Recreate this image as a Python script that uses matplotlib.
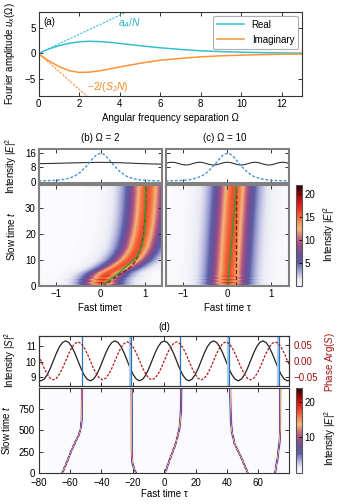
import numpy as np
import matplotlib
matplotlib.use("Agg")
import matplotlib.pyplot as plt
from matplotlib.colors import LinearSegmentedColormap

plt.rcParams['font.family'] = ['Liberation Sans', 'DejaVu Sans']
plt.rcParams['font.size'] = 7
plt.rcParams['mathtext.fontset'] = 'custom'
plt.rcParams['mathtext.rm'] = 'Liberation Sans'
plt.rcParams['mathtext.it'] = 'Liberation Sans:italic'

# ---------------- (a) Fourier amplitude u_x(Omega)
omega = [0, 0.25, 0.5, 1, 1.5, 2, 2.5, 3, 3.5, 4, 5, 6, 7, 8, 9, 10, 11, 12, 13]
u_real = [0, 0.45, 0.85, 1.5, 1.95, 2.25, 2.35, 2.3, 2.15, 1.95, 1.5, 1.1, 0.78,
          0.52, 0.36, 0.25, 0.17, 0.11, 0.07]
u_imag = [0, -0.75, -1.4, -2.5, -3.3, -3.65, -3.6, -3.35, -3.0, -2.6, -1.9, -1.3,
          -0.95, -0.65, -0.45, -0.32, -0.22, -0.15, -0.1]
omega_asym = [0, 5]
asym_real = [0, 9.2]     # a_A/N
asym_imag = [0, -17.2]   # -2/(S_2 N)

# ---------------- (b), (c) snapshots at top
tau_prof = [-1.4, -1.0, -0.8, -0.6, -0.45, -0.3, -0.15, -0.075, 0,
            0.075, 0.15, 0.3, 0.45, 0.6, 0.8, 1.0, 1.4]
pulse_prof = [0.4, 0.7, 1.3, 2.9, 5.4, 9.3, 13.8, 15.5, 16,
              15.5, 13.8, 9.3, 5.4, 2.9, 1.3, 0.7, 0.4]
tau_bg_b = [-1.4, -1.1, -0.8, -0.5, -0.25, 0, 0.25, 0.5, 0.8, 1.1, 1.4]
bg_b = [10.2, 10.3, 10.5, 10.7, 10.85, 10.9, 10.85, 10.65, 10.35, 10.05, 9.9]
tau_bg_c = [-1.4] + list(np.linspace(-1.3352, 1.3352, 35)) + [1.4]
bg_c = [10.31,
        10.77, 11.0, 10.77, 10.2, 9.63, 9.4, 9.63, 10.2,
        10.77, 11.0, 10.77, 10.2, 9.63, 9.4, 9.63, 10.2,
        10.77, 11.0, 10.77, 10.2, 9.63, 9.4, 9.63, 10.2,
        10.77, 11.0, 10.77, 10.2, 9.63, 9.4, 9.63, 10.2,
        10.77, 11.0, 10.77,
        10.31]

# ---------------- (b), (c) pulse trajectories (slow time t -> fast time tau)
map_t_b = [0, 2.5, 5, 7.5, 10, 12.5, 15, 20, 25, 30, 39]
map_tau_b = [0.0, 0.03, 0.17, 0.45, 0.66, 0.78, 0.86, 0.94, 0.99, 1.02, 1.05]
green_t_b = [0, 2, 3.6, 5.5, 7.5, 9.5, 11.3, 13.5, 15.2, 18, 20.4, 25, 30, 39]
green_tau_b = [0.04, 0.17, 0.3, 0.45, 0.58, 0.72, 0.82, 0.89, 0.93, 0.97, 0.99, 1.01, 1.02, 1.03]
dash_t_b = [0, 1, 2.3, 4.2, 6.2, 8, 9.9, 12.5, 15.2, 20.4, 28, 39]
dash_tau_b = [0.04, 0.15, 0.25, 0.4, 0.6, 0.72, 0.8, 0.87, 0.92, 0.98, 1.02, 1.03]

map_t_c = [0, 39]
map_tau_c = [0.0, 0.15]
green_t_c = [0, 39]
green_tau_c = [0.01, 0.21]
dash_t_c = [0, 39]
dash_tau_c = [0.2, 0.2]

stripe_t = [0, 0.6, 1.2, 1.8, 2.4, 3.0, 3.6, 4.5, 39]
stripe_peak = [19, 13, 18, 13.5, 17.5, 14, 16.5, 15.5, 15.5]

# ---------------- (d) drive intensity and phase
tau_s = [-80] + list(np.linspace(-78.54, 78.54, 81)) + [80]
s_int = [8.83,
         8.78, 8.88, 9.15, 9.56, 10.05, 10.54, 10.95, 11.22, 11.32, 11.22, 10.95, 10.54, 10.05, 9.56, 9.15, 8.88,
         8.78, 8.88, 9.15, 9.56, 10.05, 10.54, 10.95, 11.22, 11.32, 11.22, 10.95, 10.54, 10.05, 9.56, 9.15, 8.88,
         8.78, 8.88, 9.15, 9.56, 10.05, 10.54, 10.95, 11.22, 11.32, 11.22, 10.95, 10.54, 10.05, 9.56, 9.15, 8.88,
         8.78, 8.88, 9.15, 9.56, 10.05, 10.54, 10.95, 11.22, 11.32, 11.22, 10.95, 10.54, 10.05, 9.56, 9.15, 8.88,
         8.78, 8.88, 9.15, 9.56, 10.05, 10.54, 10.95, 11.22, 11.32, 11.22, 10.95, 10.54, 10.05, 9.56, 9.15, 8.88,
         8.78,
         8.83]
s_phase = [0.017,
           0, -0.023, -0.042, -0.055, -0.06, -0.055, -0.042, -0.023, 0, 0.023, 0.042, 0.055, 0.06, 0.055, 0.042, 0.023,
           0, -0.023, -0.042, -0.055, -0.06, -0.055, -0.042, -0.023, 0, 0.023, 0.042, 0.055, 0.06, 0.055, 0.042, 0.023,
           0, -0.023, -0.042, -0.055, -0.06, -0.055, -0.042, -0.023, 0, 0.023, 0.042, 0.055, 0.06, 0.055, 0.042, 0.023,
           0, -0.023, -0.042, -0.055, -0.06, -0.055, -0.042, -0.023, 0, 0.023, 0.042, 0.055, 0.06, 0.055, 0.042, 0.023,
           0, -0.023, -0.042, -0.055, -0.06, -0.055, -0.042, -0.023, 0, 0.023, 0.042, 0.055, 0.06, 0.055, 0.042, 0.023,
           0,
           -0.017]
pulse_end = [-52.7, -21.3, 10.3, 41.4, 73.2]
pulse_band = [False, True, False, True, True]

# (d) pulse trajectories over slow time
tracks_d = [
    ([0, 125, 250, 375, 450, 525, 625, 1000], [-65.3, -62.5, -59.8, -56.8, -54.8, -53.6, -53.0, -52.7]),
    ([0, 60, 130, 250, 1000], [-18.5, -20.0, -20.8, -21.2, -21.3]),
    ([0, 190, 350, 500, 620, 740, 1000], [0.0, 3.6, 6.8, 8.9, 9.7, 10.1, 10.3]),
    ([0, 190, 350, 500, 620, 1000], [52.5, 48.2, 44.0, 42.3, 41.8, 41.4]),
    ([0, 190, 350, 500, 1000], [69.9, 71.6, 72.6, 73.1, 73.2]),
]

# colormap
cm_vals = [0, 1.5, 3.5, 5, 7, 9, 10.5, 12.5, 14.5, 16.5, 18.5, 20.5, 22]
cm_cols = ['#ffffff', '#e8e8f4', '#9a9cd0', '#5c5fa8', '#6f4f95', '#9c4f87', '#cc6a7c',
           '#f5b878', '#f47a48', '#ec3b25', '#d01010', '#7a0000', '#200000']
cmap = LinearSegmentedColormap.from_list('heat', [(v / 22, c) for v, c in zip(cm_vals, cm_cols)])

W, H = 338, 504
fig = plt.figure(figsize=(W / 100, H / 100), dpi=100)


def px_axes(x0, y0, x1, y1):
    return fig.add_axes([x0 / W, 1 - y1 / H, (x1 - x0) / W, (y1 - y0) / H])


def style(ax, edge='#333333', lw=0.8, right=True):
    ax.tick_params(direction='in', top=True, right=right, length=3, width=0.7, pad=2,
                   color='#333333')
    for s in ax.spines.values():
        s.set_color(edge)
        s.set_linewidth(lw)


def pulse_map(tau, t, tr_t, tr_tau, pk_t, pk_v, width, bg):
    centre = np.interp(t, tr_t, tr_tau)
    peak = np.interp(t, pk_t, pk_v)
    return bg + peak[:, None] / np.cosh((tau[None, :] - centre[:, None]) / width) ** 2


cyan = '#35c0d2'
orange = '#ff9233'

# ---- (a)
ax = px_axes(38.5, 12, 302, 96)
ax.plot(omega_asym, asym_real, color=cyan, lw=0.8, ls=(0, (2, 1.2)))
ax.plot(omega_asym, asym_imag, color=orange, lw=0.8, ls=(0, (2, 1.2)))
ax.plot(omega, u_real, color=cyan, lw=1.1, label='Real')
ax.plot(omega, u_imag, color=orange, lw=1.1, label='Imaginary')
ax.set_xlim(0, 13)
ax.set_ylim(-8.2, 8)
ax.set_xticks([0, 2, 4, 6, 8, 10, 12])
ax.set_yticks([-5, 0, 5])
style(ax)
ax.text(0.018, 0.88, '(a)', transform=ax.transAxes, va='center')
ax.text(4.5, 5.8, '$a_A/N$', color='#25b3c6', ha='center', va='center', fontsize=7.5)
ax.text(3.4, -6.5, '$-2/(S_2N)$', color='#f5871f', ha='center', va='center', fontsize=7.5)
leg = ax.legend(loc='upper right', fontsize=7, handlelength=2.8, frameon=True,
                borderaxespad=0.4, labelspacing=0.5)
leg.get_frame().set_edgecolor('#999999')
leg.get_frame().set_linewidth(0.8)

# ---- (b), (c) top snapshots
gray = '#808080'
axb = px_axes(38.7, 149, 162.3, 183)
axc = px_axes(165.7, 149, 289, 183)
for a, bt, bv in [(axb, tau_bg_b, bg_b), (axc, tau_bg_c, bg_c)]:
    a.plot(bt, bv, color='#333333', lw=0.8)
    a.plot(tau_prof, pulse_prof, color='#4a92d4', lw=1.0, ls=(0, (2, 1.3)))
    a.set_xlim(-1.4, 1.4)
    a.set_ylim(-0.8, 18.5)
    a.set_xticks([-1, 0, 1])
    a.set_yticks([0, 8, 16])
    a.set_xticklabels([])
    style(a, edge=gray, lw=1.5)
axc.set_yticklabels([])

# ---- (b), (c) heat maps
tau_g = np.linspace(-1.4, 1.4, 400)
t_g = np.linspace(0, 39, 400)
img_b = pulse_map(tau_g, t_g, map_t_b, map_tau_b, stripe_t, stripe_peak, 0.39, 0.3)
img_c = pulse_map(tau_g, t_g, map_t_c, map_tau_c, stripe_t, stripe_peak, 0.39, 0.3)

axbm = px_axes(38.7, 185, 162.3, 286)
axcm = px_axes(165.7, 185, 289, 286)
for a, img, gt, gtau, dt, dtau in [(axbm, img_b, green_t_b, green_tau_b, dash_t_b, dash_tau_b),
                                    (axcm, img_c, green_t_c, green_tau_c, dash_t_c, dash_tau_c)]:
    im1 = a.imshow(img, extent=[-1.4, 1.4, 0, 39], origin='lower', aspect='auto',
                   cmap=cmap, vmin=0, vmax=22)
    a.plot(dtau, dt, color='#8b1a1a', lw=1.0, ls=(0, (3, 1.5)))
    a.plot(gtau, gt, color='#2ca02c', lw=1.0)
    a.set_xlim(-1.4, 1.4)
    a.set_ylim(0, 39)
    a.set_xticks([-1, 0, 1])
    a.set_yticks([0, 10, 20, 30])
    style(a, edge=gray, lw=1.5)
axcm.set_yticklabels([])

cax1 = px_axes(296, 185, 302, 286)
cb1 = fig.colorbar(im1, cax=cax1)
cb1.set_ticks([5, 10, 15, 20])
cb1.outline.set_edgecolor('#555555')
cb1.outline.set_linewidth(0.8)
cax1.tick_params(direction='in', length=2, width=0.6, pad=2)

# ---- (d) top: drive intensity and phase
axd = px_axes(38.7, 335.7, 289, 386)
axd.plot(tau_s, s_int, color='#222222', lw=0.9)
for x, band in zip(pulse_end, pulse_band):
    if band:
        axd.axvline(x - 0.5, color='#a9cde9', lw=1.6)
    axd.axvline(x, color='#2a73b5', lw=0.9)
axd.set_xlim(-80, 79.5)
axd.set_ylim(8.45, 11.65)
axd.set_yticks([9, 10, 11])
axd.set_xticks([-80, -60, -40, -20, 0, 20, 40, 60])
axd.set_xticklabels([])
style(axd, right=False)
axp = axd.twinx()
axp.plot(tau_s, s_phase, color='#b01818', lw=0.9, ls=(0, (2, 1.2)))
axp.set_ylim(-0.0795, 0.0795)
axp.set_yticks([-0.05, 0, 0.05])
axp.set_yticklabels(['\u22120.05', '0.00', '0.05'])
axp.tick_params(direction='in', length=3, width=0.7, pad=3, labelcolor='#a01010',
                color='#333333')
for s in axp.spines.values():
    s.set_color('#333333')
    s.set_linewidth(0.8)

# ---- (d) heat map
tau_dg = np.arange(-80, 80, 0.25)
t_dg = np.linspace(0, 1000, 400)
img_d = np.full((t_dg.size, tau_dg.size), 0.3)
for tr_t, tr_tau in tracks_d:
    img_d += pulse_map(tau_dg, t_dg, tr_t, tr_tau, [0, 1000], [13.0, 13.0], 0.5, 0.0)
axdm = px_axes(38.7, 388, 289, 472.7)
im2 = axdm.imshow(img_d, extent=[-80, 80, 0, 1000], origin='lower', aspect='auto',
                  cmap=cmap, vmin=0, vmax=24, interpolation='nearest')
axdm.set_xlim(-80, 79.5)
axdm.set_ylim(0, 1000)
axdm.set_xticks([-80, -60, -40, -20, 0, 20, 40, 60])
axdm.set_yticks([0, 250, 500, 750])
style(axdm)
axdm.tick_params(axis='x', pad=4)
axdm.tick_params(axis='y', pad=3)

cax2 = px_axes(296, 388, 302, 472.7)
cb2 = fig.colorbar(im2, cax=cax2)
cb2.set_ticks([10, 20])
cb2.outline.set_edgecolor('#555555')
cb2.outline.set_linewidth(0.8)
cax2.tick_params(direction='in', length=2, width=0.6, pad=2)

# ---- labels and titles (pixel placement)
def ftext(x, y, s, **kw):
    fig.text(x / W, 1 - y / H, s, ha='center', va='center', **kw)

ftext(10, 54, 'Fourier amplitude $u_x(\\Omega)$', rotation=90)
ftext(170, 118, 'Angular frequency separation \u03a9')
ftext(100, 138, '(b) \u03a9 = 2')
ftext(225, 138, '(c) \u03a9 = 10')
ftext(11, 166, 'Intensity $|E|^2$', rotation=90)
ftext(11, 236, 'Slow time $t$', rotation=90)
ftext(329, 234, 'Intensity $|E|^2$', rotation=90)
ftext(100, 308, 'Fast time\u03c4')
ftext(227, 308, 'Fast time \u03c4')
ftext(164, 327, '(d)')
ftext(10, 360, 'Intensity $|S|^2$', rotation=90)
ftext(330, 362, 'Phase Arg($S$)', rotation=90, color='#a01010')
ftext(6, 430, 'Slow time $t$', rotation=90)
ftext(330, 438, 'Intensity $|E|^2$', rotation=90)
ftext(164, 494, 'Fast time \u03c4')

fig.savefig('out.png', dpi=100)
